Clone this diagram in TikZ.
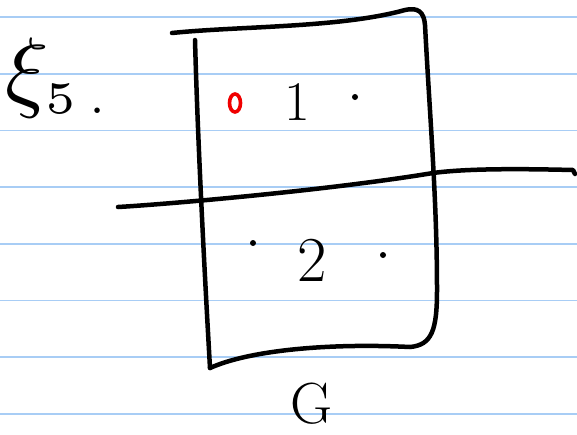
\documentclass[tikz,border=0pt]{standalone}
\usepackage{tikz}
\usetikzlibrary{positioning}
\definecolor{ink}{HTML}{000000}
\definecolor{rulecol}{HTML}{A8CDF5}
\definecolor{penred}{HTML}{F00000}
\tikzset{
  pen/.style={draw=ink,line width=4.5pt,line cap=round,line join=round},
  ruling/.style={draw=rulecol,line width=1.6pt},
  dotmark/.style={fill=ink,draw=none},
  hand/.style={inner sep=0pt,text=ink}}

\begin{document}
\begin{tikzpicture}[x=1pt,y=-1pt]
\useasboundingbox (0,0) rectangle (577,434);
\fill[white] (0,0) rectangle (577,434);
% ruled paper
\foreach \ry in {17,73.7,130.4,187.1,243.8,300.5,357.2,413.9}
  \draw[ruling] (0,\ry) -- (577,\ry);
% the sheet
\draw[pen] (172,33) .. controls (240,26) and (340,28) .. (405,10)
  .. controls (418,7) and (424,12) .. (425,25)
  .. controls (430,120) and (437,200) .. (437,290)
  .. controls (437,330) and (432,345) .. (410,347)
  .. controls (330,343) and (250,350) .. (210,368);
\draw[pen] (195,40) .. controls (198,150) and (205,280) .. (210,368);
% the cut
\draw[pen] (118,207) .. controls (170,204) and (330,190) .. (433,173)
  .. controls (470,168) and (530,169) .. (573,170) -- (575,174);
% points
\draw[penred,line width=3.6pt] (235,103) ellipse [x radius=5.5pt,y radius=9pt];
\fill[dotmark] (355,97) circle (3pt);
\fill[dotmark] (253,243) circle (3pt);
\fill[dotmark] (383,255) circle (3pt);
% labels
\node[hand,scale=9,anchor=west] (xi) at (4,78) {$\xi_{\scriptscriptstyle 5\,.}$};
\node[hand] (one) at (297,102) {\fontsize{56}{60}\selectfont 1};
\node[hand] (two) at (312,260) {\fontsize{64}{70}\selectfont 2};
\node[hand] (gee) at (312,404) {\fontsize{58}{64}\selectfont G};
\end{tikzpicture}
\end{document}
